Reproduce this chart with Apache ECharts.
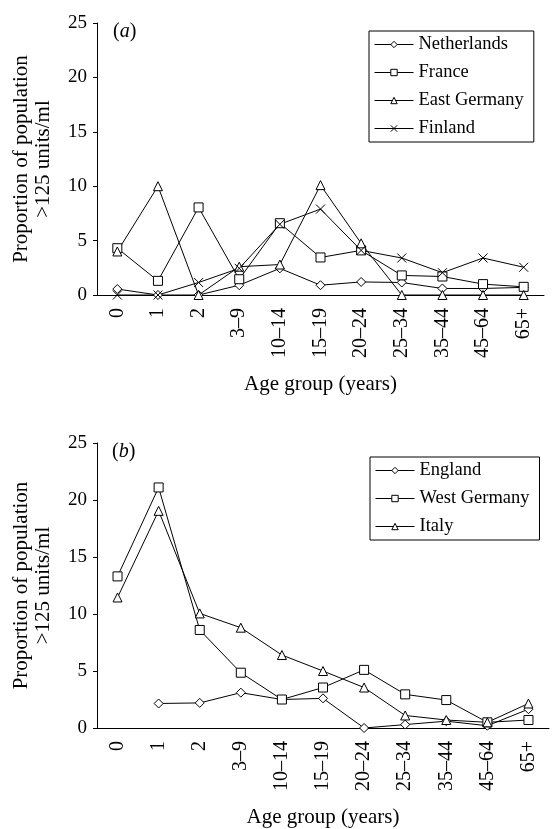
<!DOCTYPE html>
<html>
<head>
<meta charset="utf-8">
<script src="https://cdn.jsdelivr.net/npm/echarts@6/dist/echarts.min.js"></script>
<style>
html,body{margin:0;padding:0;background:#fff;}
#main{width:552px;height:829px;}
</style>
</head>
<body>
<div id="main"></div>
<script>
// age groups (shared by both panels)
var ageGroups = ['0', '1', '2', '3\u20139', '10\u201314', '15\u201319', '20\u201324', '25\u201334', '35\u201344', '45\u201364', '65+'];
var yTicks = [0, 5, 10, 15, 20, 25];

// panel (a)
var netherlands = [0.55, 0, 0, 0.9, 2.45, 0.9, 1.2, 1.15, 0.6, 0.6, 0.7];
var france = [4.3, 1.3, 8.05, 1.45, 6.6, 3.45, 4.1, 1.8, 1.7, 1.0, 0.75];
var eastGermany = [4.0, 10.0, 0, 2.6, 2.8, 10.1, 4.75, 0, 0, 0, 0];
var finland = [0, 0, 1.15, 2.45, 6.5, 7.9, 4.1, 3.4, 2.05, 3.4, 2.55];

// panel (b)
var england = [null, 2.15, 2.2, 3.1, 2.5, 2.6, 0, 0.3, 0.6, 0.2, 1.65];
var westGermany = [13.3, 21.1, 8.6, 4.85, 2.5, 3.55, 5.1, 2.95, 2.45, 0.5, 0.7];
var italy = [11.45, 19.05, 10.05, 8.8, 6.4, 5.0, 3.55, 1.1, 0.7, 0.5, 2.15];

var FONT = '"Liberation Serif", "DejaVu Serif", serif';
var crossPath = 'path://M0,0L10,10M10,0L0,10';

function makeXAxis(idx){
	return {
		type: 'category', gridIndex: idx, data: ageGroups, boundaryGap: true,
		name: 'Age group (years)', nameLocation: 'middle', nameGap: 79,
		nameTextStyle: {fontFamily: FONT, fontSize: 21, color: '#000'},
		axisLine: {lineStyle: {color: '#000', width: 1}},
		axisTick: {inside: true, length: 4, lineStyle: {color: '#000'}},
		axisLabel: {rotate: 90, interval: 0, margin: 13, fontFamily: FONT, fontSize: 20, color: '#000'}
	};
}
function makeYAxis(idx){
	return {
		type: 'value', gridIndex: idx, min: yTicks[0], max: yTicks[yTicks.length-1], interval: 5,
		name: 'Proportion of population\n>125 units/ml', nameLocation: 'middle', nameGap: 43, nameRotate: 90,
		nameTextStyle: {fontFamily: FONT, fontSize: 21, color: '#000', lineHeight: 22},
		axisLine: {show: true, lineStyle: {color: '#000', width: 1}},
		axisTick: {show: true, length: 4, lineStyle: {color: '#000'}},
		axisLabel: {margin: 10, fontFamily: FONT, fontSize: 19, color: '#000'},
		splitLine: {show: false}
	};
}
function makeSeries(name, data, symbol, idx){
	return {
		name: name, type: 'line', data: data, xAxisIndex: idx, yAxisIndex: idx,
		symbol: symbol, symbolSize: 9, showAllSymbol: true,
		connectNulls: false, animation: false,
		lineStyle: {color: '#000', width: 1},
		itemStyle: {color: '#fff', borderColor: '#000', borderWidth: 1}
	};
}
function makeLegend(names, left, top){
	return {
		data: names, orient: 'vertical', left: left, top: top,
		borderColor: '#000', borderWidth: 1, padding: [4, 10, 4, 5],
		itemWidth: 39, itemHeight: 8, itemGap: 9,
		lineStyle: {color: '#000', width: 1},
		itemStyle: {color: '#fff', borderColor: '#000', borderWidth: 1},
		textStyle: {fontFamily: FONT, fontSize: 18.5, color: '#000'}
	};
}
function panelLabel(letter, left, top){
	return {
		type: 'text', left: left, top: top,
		style: {text: '({i|' + letter + '})', font: '20px ' + FONT, fill: '#000',
			rich: {i: {fontStyle: 'italic', fontFamily: FONT, fontSize: 20}}}
	};
}

var myChart = echarts.init(document.getElementById('main'));
var option = {
	backgroundColor: '#fff',
	animation: false,
	grid: [
		{left: 97, right: 8, top: 23, height: 272},
		{left: 97, right: 3, top: 443, height: 287}
	],
	xAxis: [makeXAxis(0), makeXAxis(1)],
	yAxis: [makeYAxis(0), makeYAxis(1)],
	legend: [
		makeLegend(['Netherlands', 'France', 'East Germany', 'Finland'], 369, 31),
		makeLegend(['England', 'West Germany', 'Italy'], 370, 457)
	],
	graphic: [panelLabel('a', 113, 22), panelLabel('b', 112, 442)],
	series: [
		makeSeries('Netherlands', netherlands, 'diamond', 0),
		makeSeries('France', france, 'rect', 0),
		makeSeries('East Germany', eastGermany, 'triangle', 0),
		makeSeries('Finland', finland, crossPath, 0),
		makeSeries('England', england, 'diamond', 1),
		makeSeries('West Germany', westGermany, 'rect', 1),
		makeSeries('Italy', italy, 'triangle', 1)
	]
};
myChart.setOption(option);
</script>
</body>
</html>
